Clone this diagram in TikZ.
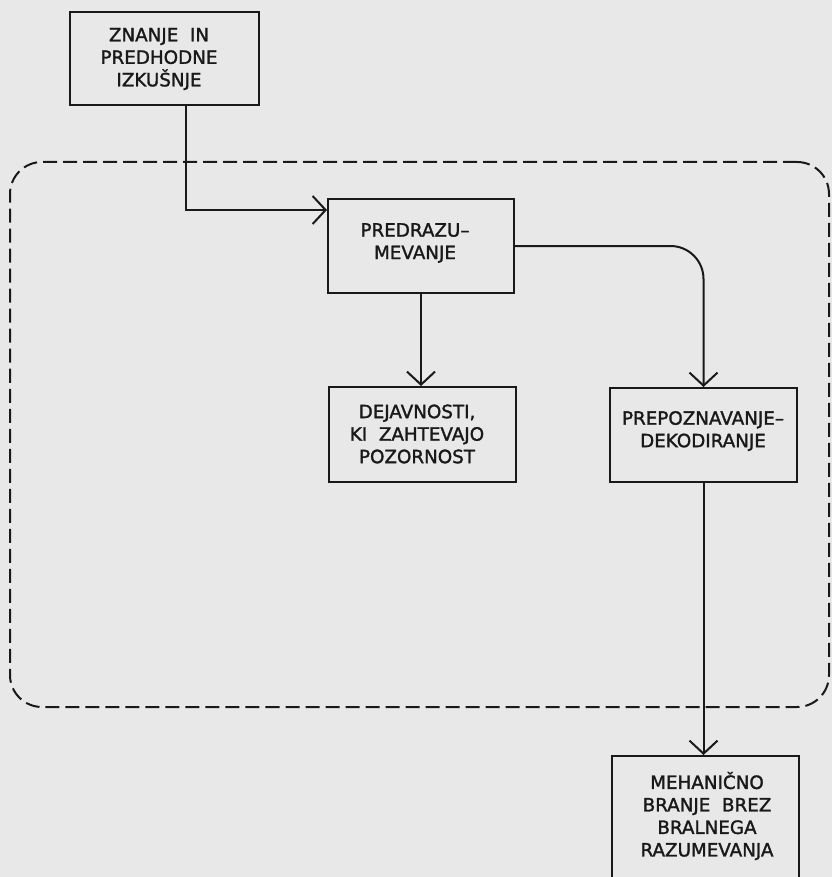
\documentclass[tikz,border=0pt]{standalone}
\usepackage{fontspec}
\setmainfont{DejaVu Sans}
\newfontfamily\boxfont{DejaVu Sans}[FakeBold=1.6]
\usetikzlibrary{arrows.meta}
\definecolor{paper}{RGB}{232,232,232}
\definecolor{ink}{RGB}{25,25,25}
\begin{document}
\begin{tikzpicture}[x=1pt,y=-1pt,
  box/.style={draw=ink, line width=2pt, rectangle, inner sep=0pt},
  lbl/.style={align=center, inner sep=0pt, font=\boxfont\fontsize{18.3}{22.5}\selectfont, text=ink},
  arr/.style={draw=ink, line width=2pt, -{Straight Barb[length=13pt,width=28pt]}},
  frame/.style={draw=ink, line width=2pt, dash pattern=on 14pt off 6pt, rounded corners=32pt, rectangle, inner sep=0pt}]
\useasboundingbox (0,0) rectangle (832,877);
\clip (0,0) rectangle (832,877);
\fill[paper] (0,0) rectangle (832,877);

% dashed frame
\node[frame, minimum width=819pt, minimum height=545pt] (fr) at (419.5,434.5) {};

% boxes
\node[box, minimum width=189pt, minimum height=93pt] (k) at (164.5,58.5) {};
\node[box, minimum width=186pt, minimum height=94pt] (p) at (421,246) {};
\node[box, minimum width=187pt, minimum height=95pt] (d) at (422.5,434.5) {};
\node[box, minimum width=187pt, minimum height=94pt] (r) at (703.5,435) {};
\node[box, minimum width=187pt, minimum height=134pt] (m) at (705.5,823) {};

% labels
\node[lbl] (kt) at (159,59) {ZNANJE\ \ IN\\PREDHODNE\\IZKUŠNJE};
\node[lbl] (pt) at (415,243) {PREDRAZU–\\MEVANJE};
\node[lbl] (dt) at (417,434) {DEJAVNOSTI,\\KI\ \ ZAHTEVAJO\\POZORNOST};
\node[lbl] (rt) at (703,431) {PREPOZNAVANJE–\\DEKODIRANJE};
\node[lbl] (mt) at (707,816) {MEHANIČNO\\BRANJE\ \ BREZ\\BRALNEGA\\RAZUMEVANJA};

% connectors
\draw[arr] ([xshift=21.5pt]k.south) |- ([yshift=36pt]p.west);
\draw[arr] (p.south) -- (p.south |- d.north);
\draw[arr, rounded corners=33pt] (p.east) -| (r.north);
\draw[arr] (r.south) -- (r.south |- m.north);
\end{tikzpicture}
\end{document}
